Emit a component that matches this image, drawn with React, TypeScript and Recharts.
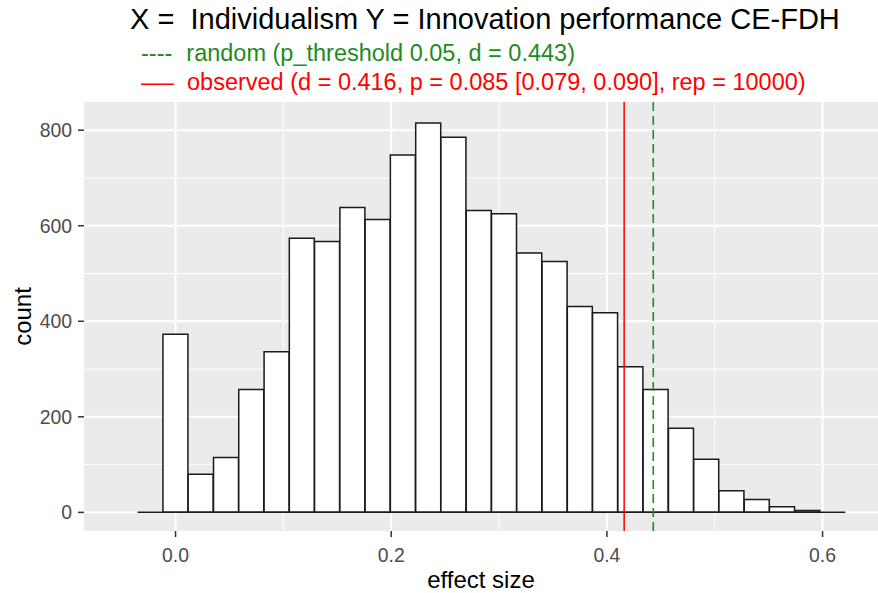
import React from 'react'
import { Bar, BarChart, CartesianGrid, Label, ReferenceLine, XAxis, YAxis } from 'recharts'

// histogram bins (centre of each bin) and counts
const binMids = [
  -0.0234, 0, 0.0234, 0.0469, 0.0703, 0.0938, 0.1172, 0.1406, 0.1641, 0.1875, 0.2109, 0.2344, 0.2578, 0.2813,
  0.3047, 0.3281, 0.3516, 0.375, 0.3984, 0.4219, 0.4453, 0.4688, 0.4922, 0.5156, 0.5391, 0.5625, 0.5859, 0.6094,
]
const binCounts = [
  0, 373, 80, 115, 257, 336, 574, 567, 638, 613, 748, 815, 785, 632, 625, 543, 525, 431, 418, 305, 257, 176, 111,
  45, 27, 12, 4, 0,
]
const binWidth = 0.02344

const observedD = 0.416
const randomD = 0.443

const xTicks = [0, 0.2, 0.4, 0.6]
const xMinor = [0.1, 0.3, 0.5]
const yTicks = [0, 200, 400, 600, 800]
const yMinor = [100, 300, 500, 700]

const title = 'X =  Individualism Y = Innovation performance CE-FDH'
const randomText = 'random (p_threshold 0.05, d = 0.443)'
const observedText = 'observed (d = 0.416, p = 0.085 [0.079, 0.090], rep = 10000)'

const GREEN = '#228B22'
const RED = '#FF0000'

const data = binMids.map((mid, i) => ({ mid, count: binCounts[i] }))
const firstEdge = binMids[0] - binWidth / 2
const lastEdge = binMids[binMids.length - 1] + binWidth / 2

const YTitle = (props: any) => {
  const { x, y, height } = props.viewBox
  const cx = x + 31
  const cy = y + height / 2
  return (
    <text x={cx} y={cy} transform={`rotate(-90, ${cx}, ${cy})`} textAnchor="middle" fontSize={24} fill="#000">
      count
    </text>
  )
}

const XTitle = (props: any) => {
  const { x, y, width } = props.viewBox
  return (
    <text x={x + width / 2} y={y + 57} textAnchor="middle" fontSize={24} fill="#000">
      effect size
    </text>
  )
}

export default function App() {
  return (
    <div
      style={{
        position: 'relative',
        width: 878,
        height: 593,
        overflow: 'hidden',
        background: '#fff',
        fontFamily: '"Liberation Sans", Arial, sans-serif',
      }}
    >
      <style>{'body { margin: 0; }'}</style>

      {/* title + subtitle */}
      <div style={{ position: 'absolute', left: 130, top: 5, fontSize: 29, lineHeight: '29px', whiteSpace: 'pre', color: '#000' }}>
        {title}
      </div>
      <div style={{ position: 'absolute', left: 141, top: 41, fontSize: 23.5, lineHeight: '24px', whiteSpace: 'pre', color: GREEN }}>
        <span>----</span>
        <span style={{ marginLeft: 14 }}>{randomText}</span>
      </div>
      <div style={{ position: 'absolute', left: 141, top: 70, fontSize: 23.5, lineHeight: '24px', whiteSpace: 'pre', color: RED }}>
        <span style={{ display: 'inline-block', width: 34, transform: 'scaleX(1.4)', transformOrigin: 'left' }}>—</span>
        <span style={{ marginLeft: 12 }}>{observedText}</span>
      </div>

      <BarChart
        width={878}
        height={593}
        data={data}
        margin={{ top: 102, right: 0, bottom: 0, left: 0 }}
        barCategoryGap={0}
        barGap={0}
      >
        <CartesianGrid
          fill="#EBEBEB"
          fillOpacity={1}
          stroke="#FFFFFF"
          strokeWidth={2}
          horizontalValues={yTicks}
          verticalValues={xTicks}
        />
        <CartesianGrid stroke="#FFFFFF" strokeWidth={1} horizontalValues={yMinor} verticalValues={xMinor} />
        <XAxis
          dataKey="mid"
          type="number"
          domain={[-0.0849, 0.6514]}
          allowDataOverflow
          ticks={xTicks}
          tickFormatter={(v: number) => v.toFixed(1)}
          height={62}
          tickSize={6}
          tickMargin={11}
          axisLine={false}
          tickLine={{ stroke: '#333333', strokeWidth: 1.5 }}
          tick={{ fill: '#4D4D4D', fontSize: 19.4 }}
          interval={0}
        >
          <Label content={<XTitle />} />
        </XAxis>
        <YAxis
          type="number"
          domain={[-39, 859]}
          allowDataOverflow
          ticks={yTicks}
          width={84}
          tickSize={6}
          tickMargin={6}
          axisLine={false}
          tickLine={{ stroke: '#333333', strokeWidth: 1.5 }}
          tick={{ fill: '#4D4D4D', fontSize: 19.4 }}
          interval={0}
        >
          <Label content={<YTitle />} />
        </YAxis>
        <Bar dataKey="count" fill="#FFFFFF" stroke="#1A1A1A" strokeWidth={1.5} isAnimationActive={false} />
        <ReferenceLine
          segment={[
            { x: firstEdge, y: 0 },
            { x: lastEdge, y: 0 },
          ]}
          stroke="#1A1A1A"
          strokeWidth={1.5}
        />
        <ReferenceLine x={observedD} stroke={RED} strokeWidth={1.5} />
        <ReferenceLine x={randomD} stroke={GREEN} strokeWidth={1.6} strokeDasharray="9 5" />
      </BarChart>
    </div>
  )
}
